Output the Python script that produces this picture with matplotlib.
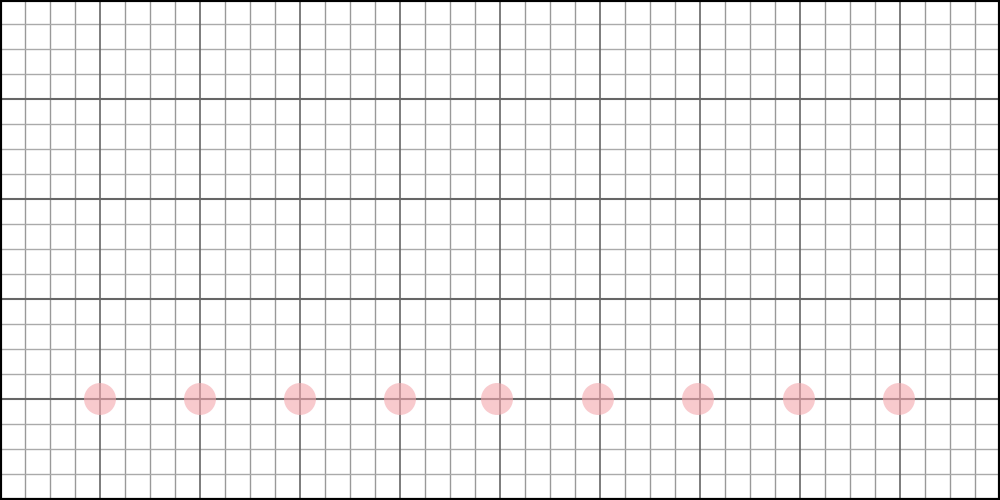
import matplotlib.pyplot as plt
import numpy as np

# circle centres, read in pixel units off the picture
dot_x = [100, 200, 300, 400, 497, 598, 698, 799, 899]
dot_y = [399, 399, 399, 399, 399, 399, 399, 399, 399]

width, height = 1000, 500
minor_step = 25
major_step = 100


def main():
    fig = plt.figure(figsize=(10, 5), dpi=100)
    ax = fig.add_axes([0, 0, 1, 1])
    ax.set_xlim(0, width)
    ax.set_ylim(height, 0)

    for x in np.arange(0, width + 1, minor_step):
        if x % major_step == 0:
            ax.axvline(x, color="#666666", linewidth=1.2, zorder=2)
        else:
            ax.axvline(x, color="#999999", linewidth=1.0, zorder=1)
    for y in np.arange(-1, height + 1, minor_step):
        if (y + 1) % major_step == 0:
            ax.axhline(y, color="#666666", linewidth=1.5, zorder=2)
        else:
            ax.axhline(y, color="#aaaaaa", linewidth=1.0, zorder=1)

    ax.scatter(dot_x, dot_y, s=530, color="#f4a7ad", alpha=0.6,
               edgecolors="none", zorder=3)

    ax.set_xticks([])
    ax.set_yticks([])
    for spine in ax.spines.values():
        spine.set_color("black")
        spine.set_linewidth(3)

    fig.savefig("out.png", dpi=100)
    plt.close(fig)


if __name__ == "__main__":
    main()
